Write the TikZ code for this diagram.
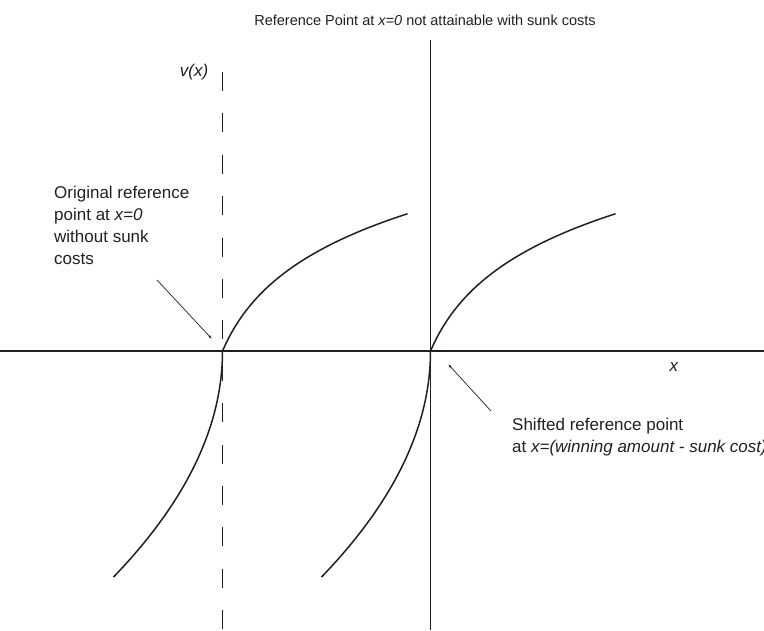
\documentclass[tikz,border=0pt]{standalone}
\usepackage{fontspec}
\setmainfont{Liberation Sans}
\usepackage{tikz}
\usetikzlibrary{arrows.meta}
\definecolor{Ink}{HTML}{231F20}
\tikzset{
  axisline/.style={draw=Ink,line width=1.6pt},
  refline/.style={axisline,dash pattern=on 19pt off 22.4pt},
  valcurve/.style={draw=Ink,line width=1.5pt},
  pointer/.style={-{Latex[length=4pt,width=2.6pt]},draw=Ink,line width=0.7pt},
  annot/.style={text=Ink,inner sep=0pt,font=\fontsize{17}{22}\selectfont}
}

\begin{document}
\begin{tikzpicture}[x=1pt,y=-1pt]
\useasboundingbox (0,0) rectangle (764,630);
\clip (0,0) rectangle (764,630);
% axes and reference lines
\coordinate (O1) at (222.5,351);
\coordinate (O2) at (430.5,351);
\draw[axisline] (0,351) -- (764,351);
\draw[axisline] (430.5,40) -- (430.5,630);
\draw[refline] (222.5,72) -- (222.5,640);
% value functions, one per reference point
\foreach \o in {O1,O2}{
  \begin{scope}[shift={(\o)}]
  \draw[valcurve] plot[domain=0:185,samples=60] (\x,{-69.7*ln(1+\x/30)});
  \draw[valcurve] plot[domain=0:10.44,samples=60] ({-\x*\x},{21.65*\x});
  \end{scope}
}
% labels
\node[annot,font=\fontsize{14.5}{18}\selectfont] (title) at (425,20) {Reference Point at \textit{x=0} not attainable with sunk costs};
\node[annot] (vx) at (194,72) {\textit{v(x)}};
\node[annot] (xlab) at (674,367) {\textit{x}};
\node[annot,align=left,anchor=north west] (orig) at (54,186) {Original reference\\point at \textit{x=0}\\without sunk\\costs};
\node[annot,align=left,anchor=north west] (shifted) at (512,418) {Shifted reference point\\at \textit{x=(winning amount - sunk cost)}};
% pointers
\coordinate (origTail) at (157,280);
\coordinate (origTip) at (212,339);
\coordinate (shiftTail) at (491,411);
\coordinate (shiftTip) at (448,364);
\draw[pointer] (origTail) -- (origTip);
\draw[pointer] (shiftTail) -- (shiftTip);
\end{tikzpicture}
\end{document}
